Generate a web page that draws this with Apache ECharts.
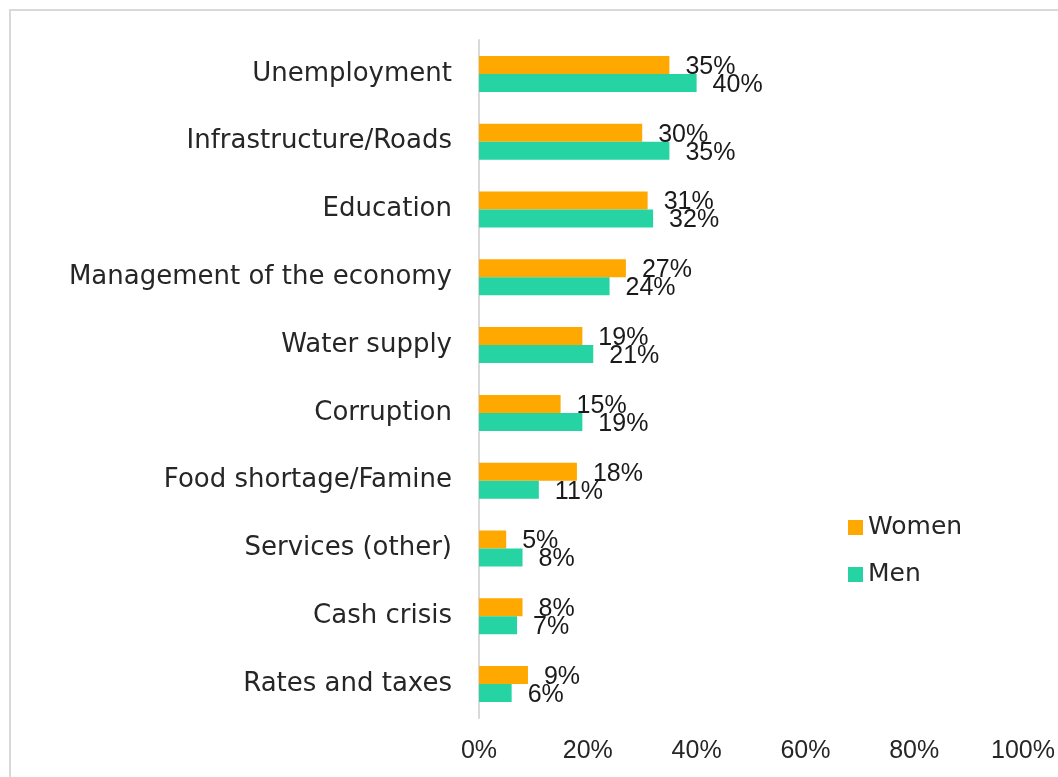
<!DOCTYPE html>
<html>
<head>
<meta charset="utf-8">
<title>Problems by gender</title>
<script src="https://cdn.jsdelivr.net/npm/echarts@6/dist/echarts.min.js"></script>
<style>
    html, body { margin: 0; padding: 0; background: #fff; }
    #chart { width: 1058px; height: 777px; }
</style>
</head>
<body>
<div id="chart"></div>
<script>
// 数据
const categories = ['Unemployment', 'Infrastructure/Roads', 'Education', 'Management of the economy',
    'Water supply', 'Corruption', 'Food shortage/Famine', 'Services (other)', 'Cash crisis', 'Rates and taxes'];
const women = [35, 30, 31, 27, 19, 15, 18, 5, 8, 9];
const men = [40, 35, 32, 24, 21, 19, 11, 8, 7, 6];
const xTicks = [0, 20, 40, 60, 80, 100];

const textColor = '#262626';
const catFont = 'DejaVu Sans';
const numFont = 'Liberation Sans';

function barSeries(name, data, color) {
    return {
        name: name,
        type: 'bar',
        data: data,
        barWidth: 18,
        barGap: '0%',
        itemStyle: { color: color },
        label: {
            show: true,
            position: 'right',
            distance: 16,
            offset: [0, 2],
            formatter: '{c}%',
            color: '#1a1a1a',
            fontFamily: numFont,
            fontSize: 25
        }
    };
}

const chart = echarts.init(document.getElementById('chart'));
chart.setOption({
    animation: false,
    backgroundColor: '#fff',
    graphic: [{
        type: 'rect',
        shape: { x: 10, y: 10, width: 1100, height: 800 },
        style: { fill: 'none', stroke: '#d9d9d9', lineWidth: 2 },
        silent: true
    }],
    grid: { left: 479, right: 29, top: 40, bottom: 59, containLabel: false },
    legend: {
        orient: 'vertical',
        left: 843,
        top: 510,
        itemWidth: 15,
        itemHeight: 15,
        itemGap: 22,
        icon: 'rect',
        textStyle: { color: textColor, fontFamily: catFont, fontSize: 25, lineHeight: 25 },
        data: ['Women', 'Men']
    },
    xAxis: {
        type: 'value',
        min: xTicks[0],
        max: xTicks[xTicks.length - 1],
        interval: 20,
        axisLine: { show: false },
        axisTick: { show: false },
        splitLine: { show: false },
        axisLabel: {
            formatter: '{value}%',
            color: textColor,
            fontFamily: numFont,
            fontSize: 25,
            margin: 21
        }
    },
    yAxis: {
        type: 'category',
        inverse: true,
        data: categories,
        axisLine: { show: true, lineStyle: { color: '#d9d9d9', width: 2 } },
        axisTick: { show: false },
        axisLabel: {
            color: textColor,
            fontFamily: catFont,
            fontSize: 26,
            margin: 27
        }
    },
    series: [
        barSeries('Women', women, '#FFA800'),
        barSeries('Men', men, '#26D3A2')
    ]
});
</script>
</body>
</html>
